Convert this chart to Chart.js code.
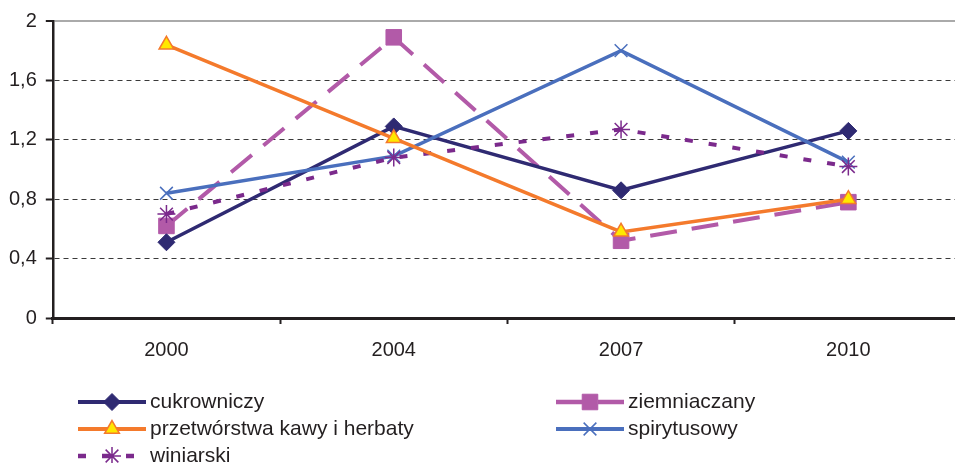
<!DOCTYPE html>
<html>
<head>
<meta charset="UTF-8">
<title>Chart</title>
<script src="https://cdn.jsdelivr.net/npm/chart.js@4"></script>
<style>
  html, body { margin: 0; padding: 0; background: #fff; overflow: hidden; }
  #wrap { width: 955px; height: 463px; overflow: hidden; }
</style>
</head>
<body>
<div id="wrap"><canvas id="chart" width="962" height="463"></canvas></div>
<script>
// data
const years = ["2000", "2004", "2007", "2010"];
const cukrowniczy = [0.51, 1.29, 0.86, 1.26];
const ziemniaczany = [0.62, 1.89, 0.52, 0.78];
const przetworstwa = [1.84, 1.21, 0.58, 0.80];
const spirytusowy = [0.84, 1.09, 1.80, 1.05];
const winiarski = [0.70, 1.08, 1.27, 1.02];

const yTicks = [0, 0.4, 0.8, 1.2, 1.6, 2];
const yTickLabels = ["0", "0,4", "0,8", "1,2", "1,6", "2"];

const FONT = "'Liberation Sans', Arial, sans-serif";
const TEXT = "#231f20";

const datasets = [
  {
    label: "cukrowniczy", data: cukrowniczy, order: 3,
    borderColor: "#2f2a72", backgroundColor: "#2f2a72", borderWidth: 3.5,
    pointStyle: "rectRot", pointRadius: 8.5, pointBorderWidth: 1,
    pointBackgroundColor: "#2f2a72", pointBorderColor: "#2f2a72"
  },
  {
    label: "ziemniaczany", data: ziemniaczany, order: 4,
    borderColor: "#b25aa8", backgroundColor: "#b25aa8", borderWidth: 4,
    borderDash: [27, 15],
    pointStyle: "rect", pointRadius: 11, pointBorderWidth: 1,
    pointBackgroundColor: "#b25aa8", pointBorderColor: "#b25aa8"
  },
  {
    label: "przetwórstwa kawy i herbaty", data: przetworstwa, order: 0,
    borderColor: "#f47a2c", backgroundColor: "#ffe800", borderWidth: 3.5,
    pointStyle: "triangle", pointRadius: 8.5, pointBorderWidth: 1.5,
    pointBackgroundColor: "#ffe800", pointBorderColor: "#f47a2c"
  },
  {
    label: "spirytusowy", data: spirytusowy, order: 2,
    borderColor: "#4a6fbd", backgroundColor: "#4a6fbd", borderWidth: 3.5,
    pointStyle: "crossRot", pointRadius: 9, pointBorderWidth: 1.5,
    pointBackgroundColor: "#4a6fbd", pointBorderColor: "#4a6fbd"
  },
  {
    label: "winiarski", data: winiarski, order: 1,
    borderColor: "#7b2a8c", backgroundColor: "#7b2a8c", borderWidth: 4,
    borderDash: [8, 16],
    pointStyle: "star", pointRadius: 9, pointBorderWidth: 1.5,
    pointBackgroundColor: "#7b2a8c", pointBorderColor: "#7b2a8c"
  }
];

// legend slots: [column, row]
const legendSlots = [[0, 0], [1, 0], [0, 1], [1, 1], [0, 2]];
const legendColX = [78, 556];
const legendRowY = [402, 429, 456];
const legendSampleLen = 68;

function drawMarker(ctx, ds, x, y) {
  const opts = {
    pointStyle: ds.pointStyle, radius: ds.pointRadius, rotation: 0,
    borderWidth: ds.pointBorderWidth
  };
  ctx.save();
  ctx.setLineDash([]);
  ctx.fillStyle = ds.pointBackgroundColor;
  ctx.strokeStyle = ds.pointBorderColor;
  ctx.lineWidth = ds.pointBorderWidth;
  Chart.helpers.drawPoint(ctx, opts, x, y);
  ctx.restore();
}

const legendPlugin = {
  id: "bottomLegend",
  afterDraw(chart) {
    const ctx = chart.ctx;
    chart.data.datasets.forEach((ds, i) => {
      const [c, r] = legendSlots[i];
      const x0 = legendColX[c];
      const y = legendRowY[r];
      ctx.save();
      ctx.strokeStyle = ds.borderColor;
      ctx.lineWidth = ds.borderWidth + 0.5;
      ctx.setLineDash(ds.borderDash || []);
      ctx.beginPath();
      ctx.moveTo(x0, y);
      ctx.lineTo(x0 + legendSampleLen, y);
      ctx.stroke();
      ctx.restore();
      drawMarker(ctx, ds, x0 + legendSampleLen / 2, y);
      ctx.save();
      ctx.fillStyle = TEXT;
      ctx.font = "21px " + FONT;
      ctx.textBaseline = "middle";
      ctx.fillText(ds.label, x0 + legendSampleLen + 4, y);
      ctx.restore();
    });
  }
};

const tickVal = (c) => (c.tick ? c.tick.value : null);

new Chart(document.getElementById("chart"), {
  type: "line",
  data: { labels: years, datasets: datasets },
  options: {
    responsive: false,
    animation: false,
    layout: { autoPadding: false, padding: { left: 0, right: 0, top: 20, bottom: 87 } },
    plugins: { legend: { display: false }, tooltip: { enabled: false } },
    elements: { line: { tension: 0 } },
    scales: {
      x: {
        offset: true,
        grid: {
          display: true, offset: true, drawOnChartArea: false, drawTicks: true,
          tickLength: 6, tickColor: TEXT, tickWidth: 2
        },
        border: { display: true, color: TEXT, width: 3 },
        ticks: { color: TEXT, font: { family: FONT, size: 20 }, padding: 14, maxRotation: 0 }
      },
      y: {
        min: 0, max: 2,
        afterBuildTicks: (scale) => { scale.ticks = yTicks.map((v) => ({ value: v })); },
        grid: {
          drawTicks: true, tickLength: 7, tickWidth: 2, tickColor: TEXT,
          color: (c) => (tickVal(c) === 2 ? "#aaaaaa" : tickVal(c) === 0 ? TEXT : "#3a3a3a"),
          lineWidth: (c) => (tickVal(c) === 2 ? 2 : 1)
        },
        border: {
          display: true, color: TEXT, width: 2.5,
          dash: (c) => (c.tick && c.tick.value > 0 && c.tick.value < 2 ? [5, 4] : [])
        },
        ticks: {
          color: TEXT, font: { family: FONT, size: 20 }, padding: 9,
          callback: (v) => yTickLabels[yTicks.indexOf(v)]
        }
      }
    }
  },
  plugins: [legendPlugin]
});
</script>
</body>
</html>
